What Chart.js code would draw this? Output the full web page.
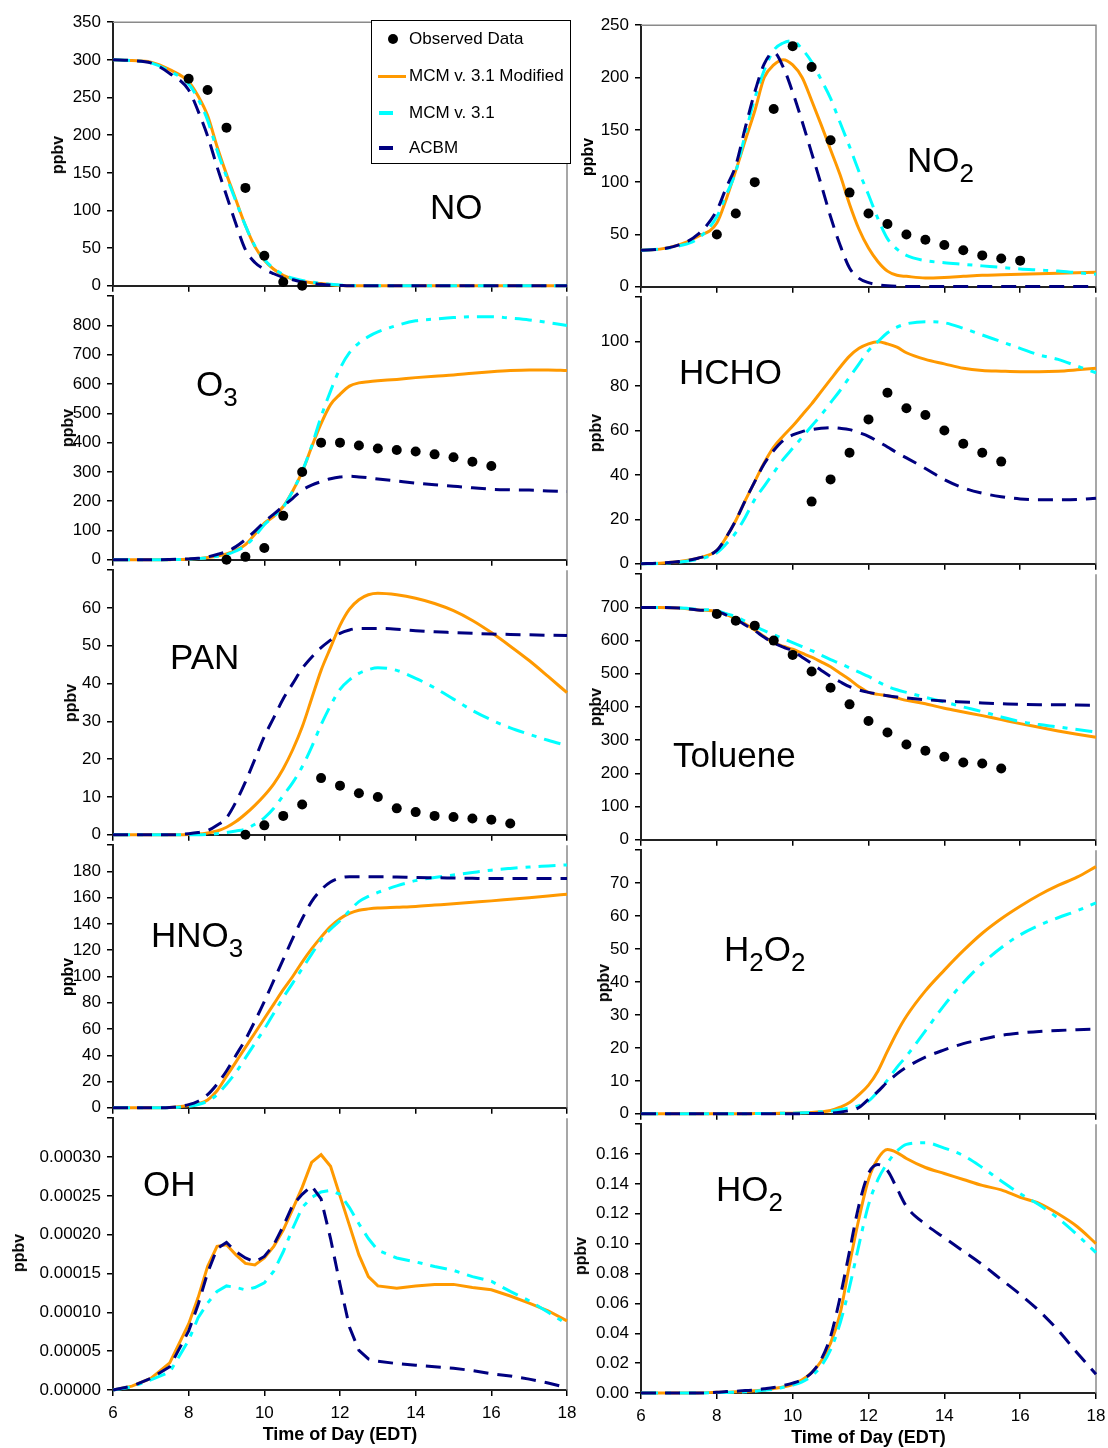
<!DOCTYPE html>
<html>
<head>
<meta charset="utf-8">
<script src="https://cdn.jsdelivr.net/npm/chart.js@4.4.1/dist/chart.umd.min.js"></script>
<style>
  body { margin: 0; background: #fff; }
  #page { position: relative; width: 1108px; height: 1448px; overflow: hidden; font-family: 'Liberation Sans', Arial, sans-serif; color: #000; }
  canvas { position: absolute; }
  .species { position: absolute; font-size: 35px; line-height: 40px; white-space: nowrap; }
  .species sub { font-size: 26px; vertical-align: -10px; line-height: 0; }
  .ylab { position: absolute; font-size: 16px; font-weight: bold; white-space: nowrap; transform: translate(-50%, -50%) rotate(-90deg); }
  #legend { position: absolute; left: 371px; top: 20px; width: 198px; height: 142px; border: 1px solid #000; background: #fff; font-size: 17px; }
  #legend .row { position: absolute; left: 0; height: 20px; line-height: 20px; width: 100%; }
  #legend .txt { position: absolute; left: 37px; top: 0; white-space: nowrap; }
  #legend .sym { position: absolute; }
</style>
</head>
<body>
<div id="page"></div>
<script>
// model output, sampled on one time grid (hours, EDT)
const modelTime = [6, 6.5, 7, 7.5, 8, 8.25, 8.5, 8.75, 9, 9.25, 9.5, 9.75, 10, 10.25, 10.5, 10.75, 11, 11.25, 11.5, 11.75, 12, 12.25, 12.5, 12.75, 13, 13.5, 14, 14.5, 15, 15.5, 16, 16.5, 17, 17.5, 18];

const noMod  = [300, 299, 297, 287, 271, 252, 226, 185, 148, 114, 80, 52, 34, 22, 14, 9, 6, 4, 3, 1.5, 0.5, 0, 0, 0, 0, 0, 0, 0, 0, 0, 0, 0, 0, 0, 0];
const noMcm  = [300, 299, 296, 285, 268, 248, 220, 180, 145, 112, 80, 53, 35, 23, 15, 10, 7, 5, 3, 2, 1, 0.5, 0, 0, 0, 0, 0, 0, 0, 0, 0, 0, 0, 0, 0];
const noAcbm = [300, 299, 296, 282, 260, 232, 199, 158, 120, 82, 48, 31, 22, 16, 11, 8, 5, 3.5, 2, 1, 0.5, 0, 0, 0, 0, 0, 0, 0, 0, 0, 0, 0, 0, 0, 0];

const no2Mod  = [35, 36, 40, 48, 61, 84, 111, 140, 168, 200, 212, 217, 212, 200, 178, 155, 131, 107, 79, 55, 37, 24, 15, 11, 10, 8.5, 9, 10, 11, 11.5, 12, 12.5, 13, 13.5, 14];
const no2Mcm  = [35, 36, 39, 46, 67, 88, 110, 146, 180, 207, 226, 233, 235, 227, 215, 198, 180, 157, 134, 110, 88, 65, 46, 36, 30, 25, 23, 21.5, 20, 18.5, 17, 16, 15, 13.5, 12];
const no2Acbm = [35, 36, 40, 50, 73, 95, 116, 152, 186, 213, 224, 210, 186, 158, 128, 98, 67, 40, 18, 8, 4, 2, 1, 0.5, 0.3, 0.2, 0.2, 0.2, 0.2, 0.2, 0.2, 0.2, 0.2, 0.2, 0.2];

const o3Mod  = [0, 0, 0, 0.5, 2, 4, 8, 13, 20, 33, 52, 87, 125, 148, 182, 235, 300, 385, 465, 530, 565, 593, 604, 608, 611, 616, 622, 627, 631, 637, 642, 646, 648, 648, 646];
const o3Mcm  = [0, 0, 0, 0.5, 2, 4, 7, 12, 18, 30, 48, 80, 120, 148, 180, 235, 302, 388, 489, 576, 653, 707, 740, 762, 778, 800, 816, 822, 827, 830, 830, 825, 819, 810, 800];
const o3Acbm = [0, 0, 0, 1, 3, 5, 10, 18, 28, 45, 69, 98, 129, 156, 183, 210, 238, 255, 267, 277, 283, 285, 283, 280, 276, 269, 262, 256, 251, 246, 241, 239, 238, 235, 233];

const hchoMod  = [0, 0.3, 1, 2.5, 6, 12, 19.5, 28.5, 37, 45.5, 52.5, 57.5, 62, 67, 72, 77.5, 83, 88.5, 93.5, 97, 99, 100, 99, 97.5, 95, 92, 90, 88, 87, 86.7, 86.5, 86.5, 86.7, 87.3, 88];
const hchoMcm  = [0, 0.2, 0.8, 2, 5, 9, 14, 21, 29, 35, 41, 47, 52, 57, 62, 67, 72.5, 78, 84, 90, 96, 100, 104, 106.5, 108, 109, 108.5, 106, 103, 100, 97, 94, 92, 89, 86];
const hchoAcbm = [0, 0.3, 1, 2.5, 6, 12, 19.5, 28.5, 37, 45, 51, 55.5, 58, 59.5, 60.4, 61, 61.3, 61, 60.4, 59, 57.4, 55, 52.6, 50, 47.7, 42.9, 37.9, 34.2, 31.8, 30.2, 29.2, 28.8, 28.8, 28.9, 29.5];

const panMod  = [0, 0, 0, 0, 0.1, 0.2, 0.5, 1, 2, 3.5, 5.5, 7.8, 10.4, 13.5, 17.5, 22.5, 28.5, 36, 43.5, 49.5, 55.4, 59.7, 62.2, 63.5, 63.9, 63.5, 62.6, 61.2, 59.3, 56.7, 53.5, 49.9, 46.1, 41.9, 37.6];
const panMcm  = [0, 0, 0, 0, 0, 0, 0.1, 0.3, 0.6, 1, 1.5, 2.8, 4.5, 7, 10.4, 13.8, 18, 23.2, 29.1, 34.2, 38.5, 41, 42.7, 43.7, 44.2, 43.5, 41.4, 38.9, 35.9, 32.9, 30.4, 28.3, 26.6, 25, 23.6];
const panAcbm = [0, 0, 0, 0, 0.3, 0.6, 1.1, 2.5, 4.5, 8.7, 14, 20, 26, 31, 36, 40, 44, 47, 49.5, 51.5, 53.3, 54.2, 54.6, 54.6, 54.6, 54.4, 54, 53.7, 53.5, 53.3, 53.1, 53, 52.9, 52.8, 52.7];

const toluMod  = [700, 700, 698, 692, 688, 678, 666, 650, 632, 612, 594, 583, 574, 562, 550, 536, 521, 502, 483, 461, 444, 438, 434, 427, 420, 410, 396, 385, 374, 362, 350, 339, 328, 318, 309];
const toluMcm  = [700, 700, 699, 694, 690, 681, 672, 658, 643, 630, 618, 606, 594, 582, 570, 556, 543, 531, 518, 505, 492, 476, 462, 452, 444, 429, 415, 400, 386, 370, 356, 347, 340, 332, 325];
const toluAcbm = [700, 700, 698, 692, 688, 677, 664, 647, 630, 610, 593, 580, 569, 550, 531, 511, 492, 476, 461, 451, 444, 439, 434, 430, 427, 422, 418, 415, 412, 410, 408, 407, 407, 406, 405];

const hno3Mod  = [0, 0, 0, 0.2, 1.7, 3, 6, 13, 24, 35, 46, 57, 68, 79, 90, 100, 111, 121, 130, 138, 144, 148, 150.5, 151.5, 152.2, 152.8, 153.4, 154.4, 155.4, 156.5, 157.6, 158.8, 160, 161.3, 162.7];
const hno3Mcm  = [0, 0, 0, 0.1, 1.2, 2.5, 5, 10, 18, 27, 38, 49, 60, 72, 84, 95, 106, 117, 128, 136, 142.5, 150, 157, 161, 164, 169, 173, 175.4, 177.3, 179.2, 181, 182.3, 183.4, 184.2, 185];
const hno3Acbm = [0, 0, 0, 0.2, 2.4, 5, 10, 18, 28, 40, 52, 66, 81, 97, 113, 129, 144, 157, 166, 172, 175, 176, 176, 176, 176, 175.8, 175.4, 175.2, 175, 174.8, 174.6, 174.6, 174.6, 174.6, 174.6];

const h2o2Mod  = [0, 0, 0, 0, 0, 0, 0, 0, 0.1, 0.1, 0.1, 0.15, 0.2, 0.3, 0.4, 0.6, 1, 2, 3.4, 5.8, 8.7, 13, 19, 24.7, 29.6, 37.3, 43.6, 49.5, 54.8, 59.2, 63, 66.4, 69.3, 71.8, 75];
const h2o2Mcm  = [0, 0, 0, 0, 0, 0, 0, 0, 0.1, 0.1, 0.1, 0.15, 0.2, 0.3, 0.4, 0.6, 0.8, 1.2, 1.8, 2.5, 3.9, 6.8, 10.2, 14.1, 17.5, 25.2, 33, 39.8, 45.6, 50.4, 54.3, 57.2, 59.5, 61.6, 64];
const h2o2Acbm = [0, 0, 0, 0, 0, 0, 0, 0, 0, 0, 0, 0, 0, 0.05, 0.1, 0.15, 0.2, 0.5, 1, 1.9, 4.4, 6.8, 9.7, 12.1, 14.1, 17.2, 19.4, 21.3, 22.6, 23.8, 24.5, 25, 25.3, 25.5, 25.7];

const ohMod  = [0, 0.5e-5, 1.5e-5, 3.5e-5, 8.5e-5, 11.9e-5, 15.9e-5, 18.5e-5, 18.7e-5, 17.4e-5, 16.3e-5, 16.1e-5, 17.0e-5, 18.5e-5, 20.6e-5, 23.3e-5, 26.1e-5, 29.3e-5, 30.3e-5, 28.8e-5, 25.0e-5, 21.2e-5, 17.4e-5, 14.6e-5, 13.4e-5, 13.1e-5, 13.4e-5, 13.6e-5, 13.6e-5, 13.2e-5, 12.9e-5, 12.1e-5, 11.2e-5, 10.2e-5, 8.9e-5];
const ohMcm  = [0, 0.4e-5, 1.3e-5, 2.3e-5, 6.4e-5, 9.3e-5, 11.2e-5, 12.7e-5, 13.4e-5, 13.2e-5, 12.9e-5, 13.2e-5, 13.8e-5, 15.3e-5, 17.8e-5, 20.8e-5, 23.5e-5, 24.8e-5, 25.5e-5, 25.7e-5, 25.2e-5, 23.5e-5, 21.4e-5, 19.5e-5, 18.0e-5, 17.0e-5, 16.5e-5, 15.9e-5, 15.4e-5, 14.6e-5, 14.0e-5, 12.7e-5, 11.5e-5, 10.0e-5, 8.5e-5];
const ohAcbm = [0, 0.5e-5, 1.5e-5, 3.0e-5, 7.6e-5, 11.0e-5, 15.1e-5, 18.2e-5, 19.0e-5, 17.8e-5, 17.0e-5, 16.5e-5, 17.2e-5, 18.7e-5, 21.1e-5, 23.8e-5, 25.2e-5, 26.3e-5, 24.6e-5, 19.5e-5, 13.6e-5, 8.1e-5, 5.1e-5, 4.0e-5, 3.7e-5, 3.4e-5, 3.2e-5, 3.0e-5, 2.8e-5, 2.5e-5, 2.1e-5, 1.8e-5, 1.4e-5, 0.9e-5, 0.3e-5];

const ho2Mod  = [0, 0, 0, 0, 0.0005, 0.0005, 0.0008, 0.001, 0.0015, 0.002, 0.003, 0.004, 0.0057, 0.0088, 0.0136, 0.0213, 0.0334, 0.053, 0.0862, 0.117, 0.143, 0.157, 0.163, 0.161, 0.157, 0.151, 0.147, 0.143, 0.139, 0.136, 0.131, 0.127, 0.120, 0.1115, 0.100];
const ho2Mcm  = [0, 0, 0, 0, 0.0003, 0.0004, 0.0006, 0.0008, 0.0012, 0.0018, 0.0025, 0.0038, 0.0053, 0.0075, 0.0114, 0.018, 0.029, 0.0466, 0.071, 0.0994, 0.126, 0.143, 0.154, 0.162, 0.1665, 0.1676, 0.164, 0.159, 0.151, 0.142, 0.1335, 0.126, 0.117, 0.106, 0.094];
const ho2Acbm = [0, 0, 0, 0, 0.0005, 0.001, 0.0012, 0.0016, 0.002, 0.0028, 0.0037, 0.005, 0.0066, 0.009, 0.0136, 0.0224, 0.0378, 0.064, 0.095, 0.126, 0.147, 0.153, 0.149, 0.137, 0.125, 0.113, 0.104, 0.095, 0.086, 0.076, 0.066, 0.055, 0.042, 0.027, 0.0125];

// observed data
const noObsTime = [8, 8.5, 9, 9.5, 10, 10.5, 11];
const noObs = [275, 260, 210, 130, 40, 5, 0];
const no2ObsTime = [8, 8.5, 9, 9.5, 10, 10.5, 11, 11.5, 12, 12.5, 13, 13.5, 14, 14.5, 15, 15.5, 16];
const no2Obs = [50, 70, 100, 170, 230, 210, 140, 90, 70, 60, 50, 45, 40, 35, 30, 27, 25];
const o3ObsTime = [9, 9.5, 10, 10.5, 11, 11.5, 12, 12.5, 13, 13.5, 14, 14.5, 15, 15.5, 16];
const o3Obs = [0, 10, 40, 150, 300, 400, 400, 390, 380, 375, 370, 360, 350, 335, 320];
const hchoObsTime = [10.5, 11, 11.5, 12, 12.5, 13, 13.5, 14, 14.5, 15, 15.5];
const hchoObs = [28, 38, 50, 65, 77, 70, 67, 60, 54, 50, 46];
const panObsTime = [9.5, 10, 10.5, 11, 11.5, 12, 12.5, 13, 13.5, 14, 14.5, 15, 15.5, 16, 16.5];
const panObs = [0, 2.5, 5, 8, 15, 13, 11, 10, 7, 6, 5, 4.7, 4.3, 4, 3];
const toluObsTime = [8, 8.5, 9, 9.5, 10, 10.5, 11, 11.5, 12, 12.5, 13, 13.5, 14, 14.5, 15, 15.5];
const toluObs = [680, 660, 645, 600, 557, 507, 458, 408, 358, 323, 287, 268, 250, 233, 230, 215];

const xTicks = [6, 8, 10, 12, 14, 16, 18];
const seriesNames = ['Observed Data', 'MCM v. 3.1 Modified', 'MCM v. 3.1', 'ACBM'];

const ORANGE = '#FF9900';
const CYAN = '#00FFFF';
const NAVY = '#000080';

Chart.defaults.font.family = "'Liberation Sans', Arial, sans-serif";
Chart.defaults.color = '#000';

// canvases are wider than the plot so the last x label never squeezes the plot area
const columns = [
    { canvasLeft: 0, width: 600, plotLeft: 113, plotRight: 567 },
    { canvasLeft: 570, width: 560, plotLeft: 641, plotRight: 1096 }
];

const panels = [
    { col: 0, top: 18, bottom: 292, max: 350, step: 50, digits: 0, first: true, mod: noMod, mcm: noMcm, acbm: noAcbm, obsTime: noObsTime, obs: noObs,
      label: 'NO', lx: 433, ly: 207, px: 58, py: 155 },
    { col: 0, top: 292, bottom: 566, max: 900, step: 100, digits: 0, mod: o3Mod, mcm: o3Mcm, acbm: o3Acbm, obsTime: o3ObsTime, obs: o3Obs,
      label: 'O<sub>3</sub>', lx: 199, ly: 384, px: 68, py: 428 },
    { col: 0, top: 566, bottom: 841, max: 70, step: 10, digits: 0, mod: panMod, mcm: panMcm, acbm: panAcbm, obsTime: panObsTime, obs: panObs,
      label: 'PAN', lx: 173, ly: 657, px: 71, py: 703 },
    { col: 0, top: 841, bottom: 1114, max: 200, step: 20, digits: 0, mod: hno3Mod, mcm: hno3Mcm, acbm: hno3Acbm,
      label: 'HNO<sub>3</sub>', lx: 154, ly: 935, px: 68, py: 977 },
    { col: 0, top: 1114, bottom: 1390, max: 0.00035, step: 0.00005, digits: 5, last: true, linear: true, mod: ohMod, mcm: ohMcm, acbm: ohAcbm,
      label: 'OH', lx: 146, ly: 1184, px: 19, py: 1253 },
    { col: 1, top: 21, bottom: 293, max: 250, step: 50, digits: 0, first: true, mod: no2Mod, mcm: no2Mcm, acbm: no2Acbm, obsTime: no2ObsTime, obs: no2Obs,
      label: 'NO<sub>2</sub>', lx: 910, ly: 160, px: 588, py: 157 },
    { col: 1, top: 293, bottom: 570, max: 120, step: 20, digits: 0, mod: hchoMod, mcm: hchoMcm, acbm: hchoAcbm, obsTime: hchoObsTime, obs: hchoObs,
      label: 'HCHO', lx: 682, ly: 372, px: 596, py: 433 },
    { col: 1, top: 570, bottom: 846, max: 800, step: 100, digits: 0, mod: toluMod, mcm: toluMcm, acbm: toluAcbm, obsTime: toluObsTime, obs: toluObs,
      label: 'Toluene', lx: 676, ly: 755, px: 596, py: 707 },
    { col: 1, top: 846, bottom: 1120, max: 80, step: 10, digits: 0, mod: h2o2Mod, mcm: h2o2Mcm, acbm: h2o2Acbm,
      label: 'H<sub>2</sub>O<sub>2</sub>', lx: 727, ly: 949, px: 604, py: 983 },
    { col: 1, top: 1120, bottom: 1393, max: 0.18, step: 0.02, digits: 2, last: true, mod: ho2Mod, mcm: ho2Mcm, acbm: ho2Acbm,
      label: 'HO<sub>2</sub>', lx: 719, ly: 1189, px: 581, py: 1256 }
];

function toXY(times, values) {
    return times.map((t, i) => ({ x: t, y: values[i] }));
}

// grey plot-area frame on the right (and on top for the first row)
const frame = {
    id: 'frame',
    beforeDatasetsDraw(chart, args, opts) {
        const a = chart.chartArea;
        const ctx = chart.ctx;
        ctx.save();
        ctx.strokeStyle = '#8a8a8a';
        ctx.lineWidth = 1.5;
        ctx.beginPath();
        ctx.moveTo(a.right, a.bottom);
        ctx.lineTo(a.right, a.top);
        if (opts.top) ctx.lineTo(a.left, a.top);
        ctx.stroke();
        ctx.restore();
    }
};

const page = document.getElementById('page');

panels.forEach(p => {
    const col = columns[p.col];
    const padTop = 12;
    const xh = p.last ? 56 : 10;
    const canvas = document.createElement('canvas');
    const w = col.width;
    const h = (p.bottom - p.top) + padTop + xh;
    canvas.width = w;
    canvas.height = h;
    canvas.style.left = col.canvasLeft + 'px';
    canvas.style.top = (p.top - padTop) + 'px';
    canvas.style.width = w + 'px';
    canvas.style.height = h + 'px';
    page.appendChild(canvas);

    const line = { pointRadius: 0, borderWidth: 3, fill: false, clip: 4,
                   cubicInterpolationMode: p.linear ? 'default' : 'monotone', tension: 0 };
    const datasets = [];
    if (p.obs) {
        datasets.push({ label: seriesNames[0], data: toXY(p.obsTime, p.obs), showLine: false,
                        pointRadius: 5, pointBackgroundColor: '#000', pointBorderWidth: 0, clip: 10, order: 0 });
    }
    datasets.push({ ...line, label: seriesNames[3], data: toXY(modelTime, p.acbm), borderColor: NAVY, borderDash: [15, 9], order: 1 });
    datasets.push({ ...line, label: seriesNames[2], data: toXY(modelTime, p.mcm), borderColor: CYAN, borderDash: [17, 8, 5, 8], order: 2 });
    datasets.push({ ...line, label: seriesNames[1], data: toXY(modelTime, p.mod), borderColor: ORANGE, order: 3 });

    new Chart(canvas, {
        type: 'line',
        data: { datasets },
        options: {
            responsive: false,
            animation: false,
            events: [],
            layout: { padding: { top: padTop, right: col.canvasLeft + col.width - col.plotRight, bottom: 0, left: 0 } },
            plugins: { legend: { display: false }, tooltip: { enabled: false }, frame: { top: !!p.first } },
            scales: {
                x: {
                    type: 'linear', min: 6, max: 18,
                    afterBuildTicks: s => { s.ticks = xTicks.map(v => ({ value: v })); },
                    afterFit: s => { s.height = xh; },
                    ticks: { display: !!p.last, padding: 7, color: '#000', font: { size: 17 } },
                    grid: { drawOnChartArea: false, tickLength: 6, color: '#000', lineWidth: 1.5 },
                    border: { color: '#222', width: 2 },
                    title: { display: !!p.last, text: 'Time of Day (EDT)', color: '#000',
                             font: { size: 18, weight: 'bold' }, padding: { top: 0, bottom: 0 } }
                },
                y: {
                    min: 0, max: p.max,
                    afterFit: s => { s.width = col.plotLeft - col.canvasLeft; },
                    ticks: {
                        stepSize: p.step, padding: 6, color: '#000', font: { size: 17 },
                        callback: v => (!p.first && Math.abs(v - p.max) < p.step / 100) ? '' : v.toFixed(p.digits)
                    },
                    grid: { drawOnChartArea: false, tickLength: 6, color: '#000', lineWidth: 1.5 },
                    border: { color: '#222', width: 2 }
                }
            }
        },
        plugins: [frame]
    });

    const lab = document.createElement('div');
    lab.className = 'species';
    lab.innerHTML = p.label;
    lab.style.left = (p.lx - 3) + 'px';
    lab.style.top = (p.ly - 20) + 'px';
    page.appendChild(lab);

    const yl = document.createElement('div');
    yl.className = 'ylab';
    yl.textContent = 'ppbv';
    yl.style.left = p.px + 'px';
    yl.style.top = p.py + 'px';
    page.appendChild(yl);
});

// legend box inside the NO panel
const legend = document.createElement('div');
legend.id = 'legend';
const rowTops = [8, 45, 82, 117];
const symbols = [
    'left:16px;top:5px;width:10px;height:10px;border-radius:50%;background:#000;',
    'left:6px;top:9px;width:28px;height:3px;background:' + ORANGE + ';',
    'left:7px;top:8px;width:14px;height:4px;background:' + CYAN + ';',
    'left:7px;top:8px;width:14px;height:4px;background:' + NAVY + ';'
];
seriesNames.forEach((name, i) => {
    const row = document.createElement('div');
    row.className = 'row';
    row.style.top = rowTops[i] + 'px';
    row.innerHTML = '<span class="sym" style="' + symbols[i] + '"></span><span class="txt">' + name + '</span>';
    legend.appendChild(row);
});
page.appendChild(legend);
</script>
</body>
</html>
